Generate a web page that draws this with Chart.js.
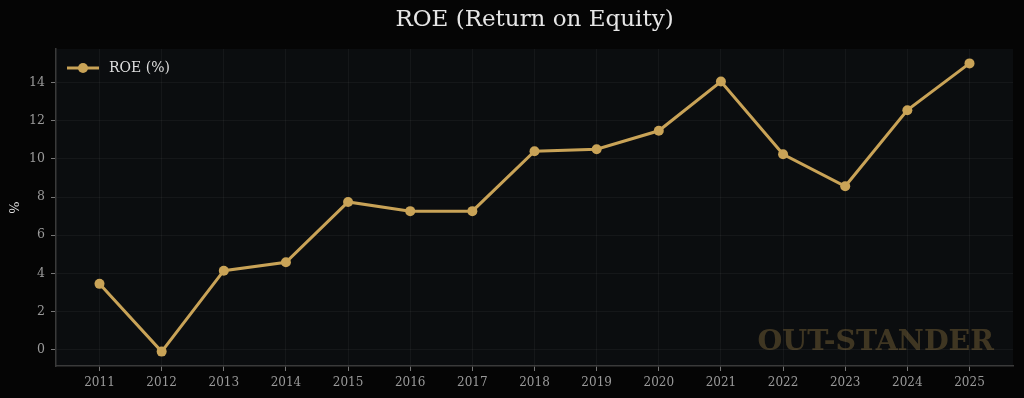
<!DOCTYPE html>
<html>
<head>
<meta charset="utf-8">
<script src="https://cdn.jsdelivr.net/npm/chart.js@4/dist/chart.umd.min.js"></script>
<style>
html,body{margin:0;padding:0;background:#050505;}
#wrap{width:1024px;height:398px;position:relative;}
</style>
</head>
<body>
<div id="wrap"><canvas id="c" width="1024" height="398"></canvas></div>
<script>
const years = [2011,2012,2013,2014,2015,2016,2017,2018,2019,2020,2021,2022,2023,2024,2025];
const roe = [3.45,-0.1,4.14,4.58,7.74,7.26,7.26,10.4,10.5,11.47,14.05,10.24,8.56,12.55,15.0];
const yTicks = [0,2,4,6,8,10,12,14];
const seriesLabel = 'ROE (%)';
const titleText = 'ROE (Return on Equity)';
const yLabel = '%';
const watermark = 'OUT-STANDER';

const GOLD = '#c9a357';
const SERIF = '"DejaVu Serif", serif';

const bgPlugin = {
  id: 'bg',
  beforeDraw(chart) {
    const {ctx, chartArea:a} = chart;
    ctx.save();
    ctx.fillStyle = '#050505';
    ctx.fillRect(0,0,chart.width,chart.height);
    ctx.fillStyle = '#0b0d0f';
    ctx.fillRect(a.left,a.top,a.right-a.left,a.bottom-a.top);
    ctx.restore();
  },
  beforeDatasetsDraw(chart) {
    const {ctx, chartArea:a} = chart;
    ctx.save();
    ctx.font = 'bold 28.5px ' + SERIF;
    ctx.fillStyle = 'rgba(201,163,87,0.28)';
    ctx.textAlign = 'right';
    ctx.textBaseline = 'alphabetic';
    ctx.fillText(watermark, a.right - 19, a.bottom - 16);
    ctx.restore();
  },
  afterDraw(chart) {
    const {ctx, chartArea:a} = chart;
    ctx.save();
    // title
    ctx.font = '23px ' + SERIF;
    ctx.fillStyle = '#e6e6e6';
    ctx.textAlign = 'center';
    ctx.textBaseline = 'middle';
    ctx.fillText(titleText, (a.left + a.right)/2, 20);
    // y label
    ctx.translate(16, (a.top + a.bottom)/2);
    ctx.rotate(-Math.PI/2);
    ctx.font = '13px ' + SERIF;
    ctx.fillStyle = '#dddddd';
    ctx.fillText(yLabel, 0, 0);
    ctx.restore();
    // legend
    ctx.save();
    const ly = a.top + 19;
    ctx.strokeStyle = GOLD;
    ctx.lineWidth = 3;
    ctx.beginPath();
    ctx.moveTo(a.left + 11, ly);
    ctx.lineTo(a.left + 43, ly);
    ctx.stroke();
    ctx.fillStyle = GOLD;
    ctx.beginPath();
    ctx.arc(a.left + 27, ly, 5, 0, Math.PI*2);
    ctx.fill();
    ctx.font = '14px ' + SERIF;
    ctx.fillStyle = '#dedede';
    ctx.textAlign = 'left';
    ctx.textBaseline = 'middle';
    ctx.fillText(seriesLabel, a.left + 53, ly);
    ctx.restore();
  }
};

new Chart(document.getElementById('c'), {
  type: 'line',
  data: {
    datasets: [{
      label: seriesLabel,
      data: years.map((y,i) => ({x:y, y:roe[i]})),
      borderColor: GOLD,
      backgroundColor: GOLD,
      borderWidth: 3,
      pointRadius: 5,
      pointBorderWidth: 0,
      pointBackgroundColor: GOLD,
      tension: 0
    }]
  },
  options: {
    responsive: false,
    animation: false,
    layout: { padding: { top: 49, right: 11, left: 0, bottom: 0 } },
    plugins: { legend: { display: false }, title: { display: false }, tooltip: { enabled: false } },
    scales: {
      x: {
        type: 'linear',
        min: 2010.3, max: 2025.7,
        afterBuildTicks(s) { s.ticks = years.map(v => ({value: v})); },
        afterFit(s) { s.height = 32; },
        ticks: {
          color: '#9a9a9a',
          font: { family: SERIF, size: 12 },
          padding: 5,
          maxRotation: 0,
          autoSkip: false,
          callback: v => String(v)
        },
        grid: { color: 'rgba(255,255,255,0.045)', tickColor: '#777', tickLength: 5, drawTicks: true },
        border: { color: '#3a3a3a', width: 1.5, dash: [] }
      },
      y: {
        min: -0.855, max: 15.755,
        afterBuildTicks(s) { s.ticks = yTicks.map(v => ({value: v})); },
        afterFit(s) { s.width = 56; },
        ticks: {
          color: '#9a9a9a',
          font: { family: SERIF, size: 12.5 },
          padding: 6,
          callback: v => String(v)
        },
        grid: { color: 'rgba(255,255,255,0.045)', tickColor: '#777', tickLength: 5 },
        border: { color: '#3a3a3a', width: 1.5 }
      }
    }
  },
  plugins: [bgPlugin]
});
</script>
</body>
</html>
